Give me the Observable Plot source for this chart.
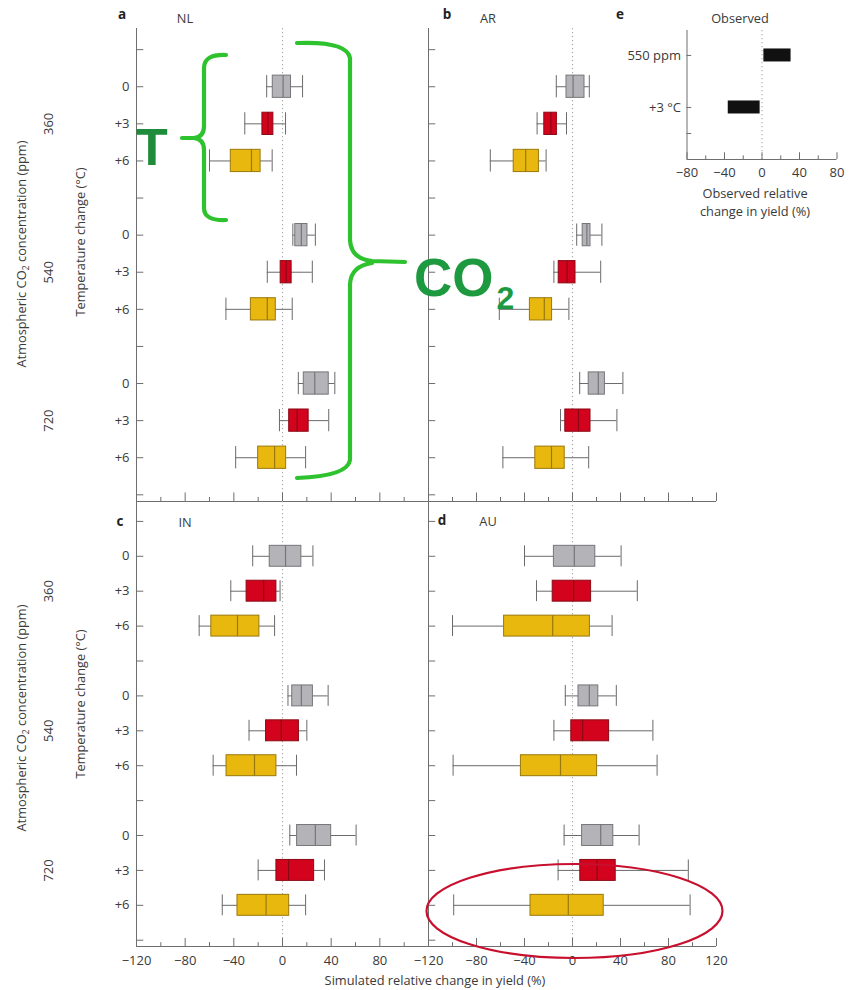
<!DOCTYPE html>
<html><head><meta charset="utf-8">
<script src="https://cdn.jsdelivr.net/npm/d3@7"></script>
<script src="https://cdn.jsdelivr.net/npm/@observablehq/plot@0.6"></script>
<style>
body{margin:0;background:#fff;}
#fig{position:relative;width:856px;height:990px;font-family:"Open Sans",sans-serif;color:#3a3a3a;overflow:hidden;background:#fff;}
.lab{position:absolute;white-space:nowrap;transform:translate(-50%,-50%);font-size:12.8px;line-height:1;}
.bold{font-weight:bold;font-size:13.5px;color:#222;}
.rot{transform:translate(-50%,-50%) rotate(-90deg);font-size:12.8px;}
sub{font-size:0.7em;line-height:0;}
#fig svg.ovl{position:absolute;left:0;top:0;pointer-events:none;}
</style></head><body><div id="fig"></div>
<script>
// ---- data ----
const co2Levels = ["360", "540", "720"];
const tempLevels = ["0", "+3", "+6"];
const tempColors = ["#b4b4b8", "#d3031d", "#e8b80f"];
const tempStrokes = ["#76767a", "#8a0915", "#9a780b"];
// each row: [whisker low, Q1, median, Q3, whisker high]; order 360/0,360/+3,360/+6,540/...,720/...
const NL = [
  [-13, -8, 0.5, 7, 16.5],
  [-31, -16.5, -12, -7.5, 2.5],
  [-60, -42.5, -25.5, -18, -8.5],
  [8.5, 10.5, 15.5, 20.5, 27],
  [-12.5, -1.5, 3, 7.5, 24.5],
  [-46.5, -26, -12.5, -5.5, 8],
  [13, 17.5, 26.5, 38, 43],
  [-2.5, 5.5, 12, 21.5, 38],
  [-38.5, -20, -6.5, 3, 19]
];
const AR = [
  [-13.5, -5, 0.5, 10, 14],
  [-29.5, -23.5, -18, -13, -5],
  [-68.5, -49, -39, -28, -22],
  [3.5, 8.5, 12, 15, 24.5],
  [-15.5, -11.5, -4.5, 2.5, 23.5],
  [-61, -35.5, -23.5, -17, -3],
  [6, 13.5, 21.5, 27, 42],
  [-10, -6, 5, 15, 37],
  [-58, -31, -17.5, -6.5, 13.5]
];
const IN = [
  [-24.5, -10.5, 2.5, 15.5, 25],
  [-42.5, -29.5, -15.5, -5, -2],
  [-68.5, -58.5, -37, -19, -6.5],
  [4.5, 8, 15.5, 25, 37.5],
  [-27.5, -13.5, -1, 13.5, 20],
  [-57, -46, -23, -5, 11.5],
  [6, 12, 27, 40, 60.5],
  [-20, -5, 5, 26, 34.5],
  [-49.5, -37, -13.5, 5.5, 19]
];
const AU = [
  [-40, -15.5, 1.5, 19, 40.5],
  [-30, -16.5, 1, 15.5, 54],
  [-100, -57, -16.5, 14.5, 33],
  [-6, 5, 14, 21.5, 36.5],
  [-15.5, -1, 8.5, 30.5, 67],
  [-99.5, -43, -10, 20.5, 70.5],
  [-7, 8, 23.5, 34, 55.5],
  [-12, 6.5, 20.5, 36, 96.5],
  [-99, -35, -3.5, 26, 98]
];
const xTickValues = [-120, -80, -40, 0, 40, 80, 120];
const xMinorTicks = [-100, -60, -20, 20, 60, 100];
const observedLabels = ["550 ppm", "+3 °C"];
const observedLow = [2, -36];
const observedHigh = [31, -2];
const observedTicks = [-80, -40, 0, 40, 80];
const observedMinor = [-60, -20, 20, 60];

// ---- helpers ----
const fig = document.getElementById("fig");
const axisColor = "#6e6e6e";
const textColor = "#3a3a3a";
const tickFont = 13;
const fmt = d => String(d).replace("-", "\u2212");
const yMin = 0.43, yMax = 13.18, half = 0.3;
const posOf = (c, t) => 2 + 4 * c + t;

function rows(stats) {
  return stats.map((s, i) => {
    const c = Math.floor(i / 3), t = i % 3;
    return {c, t, pos: posOf(c, t), lo: s[0], q1: s[1], med: s[2], q3: s[3], hi: s[4]};
  });
}
const yLabelRows = [];
co2Levels.forEach((c, ci) => tempLevels.forEach((t, ti) => yLabelRows.push({pos: posOf(ci, ti), label: t})));

function place(el, left, top) {
  el.style.position = "absolute";
  el.style.left = left + "px";
  el.style.top = top + "px";
  fig.appendChild(el);
}

function panel(stats, o) {
  const data = rows(stats);
  const marks = [
    Plot.ruleX([0], {stroke: "#a9a9a9", strokeDasharray: "1.3,2.7", strokeWidth: 1.1}),
    Plot.ruleX([-120], {stroke: axisColor}),
    Plot.ruleY([yMax], {stroke: axisColor}),
    Plot.ruleY(d3.range(1, 14), {y: d => d, x1: -120, x2: -114, stroke: axisColor}),
    Plot.ruleX(xTickValues, {x: d => d, y1: yMax, y2: yMax - 0.23, stroke: axisColor}),
    Plot.ruleX(xMinorTicks, {x: d => d, y1: yMax, y2: yMax - 0.11, stroke: axisColor}),
    Plot.ruleY(data, {y: "pos", x1: "lo", x2: "hi", stroke: "#6a6a6a"}),
    Plot.ruleX(data, {x: "lo", y1: d => d.pos - half, y2: d => d.pos + half, stroke: "#6a6a6a"}),
    Plot.ruleX(data, {x: "hi", y1: d => d.pos - half, y2: d => d.pos + half, stroke: "#6a6a6a"}),
    Plot.rect(data, {x1: "q1", x2: "q3", y1: d => d.pos - half, y2: d => d.pos + half,
      fill: d => tempColors[d.t], stroke: d => tempStrokes[d.t], strokeWidth: 1}),
    Plot.ruleX(data, {x: "med", y1: d => d.pos - half, y2: d => d.pos + half, stroke: d => tempStrokes[d.t], strokeWidth: 1.2})
  ];
  if (o.yLabels) {
    marks.push(Plot.text(yLabelRows, {x: -120, y: "pos", text: "label", textAnchor: "end", dx: -7, fontSize: tickFont, fill: textColor}));
    marks.push(Plot.text(co2Levels, {x: -120, y: (d, i) => posOf(i, 1), text: d => d, rotate: -90, dx: -88, fontSize: tickFont, fill: textColor}));
  }
  if (o.xLabels) {
    marks.push(Plot.text(o.xLabels, {x: d => d, y: yMax, dy: 14, text: d => fmt(d), fontSize: tickFont, fill: textColor}));
  }
  const p = Plot.plot({
    width: o.width, height: o.height,
    marginLeft: o.mL, marginRight: o.mR, marginTop: o.mT, marginBottom: o.mB,
    x: {domain: [-120, 120], axis: null},
    y: {domain: [yMin, yMax], reverse: true, axis: null},
    color: {type: "identity"},
    style: {background: "transparent", fontFamily: "Open Sans, sans-serif", overflow: "visible"},
    marks
  });
  place(p, o.left, o.top);
}

// panels a (NL), b (AR): frame y 28..501 ; c (IN), d (AU): frame y 501..946
panel(NL, {left: 0, top: 0, width: 430, height: 520, mL: 136, mR: 2, mT: 28, mB: 19, yLabels: true});
panel(AR, {left: 420, top: 0, width: 436, height: 520, mL: 8, mR: 140, mT: 28, mB: 19});
panel(IN, {left: 0, top: 480, width: 430, height: 510, mL: 136, mR: 2, mT: 21, mB: 44, yLabels: true,
  xLabels: xTickValues.slice(0, 6)});
panel(AU, {left: 420, top: 480, width: 436, height: 510, mL: 8, mR: 140, mT: 21, mB: 44, xLabels: xTickValues});

// panel e (observed)
const obs = observedLabels.map((label, i) => ({i, label, lo: observedLow[i], hi: observedHigh[i]}));
const pe = Plot.plot({
  width: 256, height: 230, marginLeft: 86.5, marginRight: 19.5, marginTop: 30, marginBottom: 71,
  x: {domain: [-80, 80], axis: null},
  y: {domain: [-0.48, 2], reverse: true, axis: null},
  style: {background: "transparent", fontFamily: "Open Sans, sans-serif", overflow: "visible"},
  marks: [
    Plot.ruleX([0], {stroke: "#a9a9a9", strokeDasharray: "1.3,2.7", strokeWidth: 1.1}),
    Plot.ruleX([-80], {stroke: axisColor}),
    Plot.ruleY([2], {stroke: axisColor}),
    Plot.ruleY([0, 1, 1.5], {y: d => d, x1: -80, x2: -75, stroke: axisColor}),
    Plot.ruleX(observedTicks, {x: d => d, y1: 2, y2: 1.87, stroke: axisColor}),
    Plot.ruleX(observedMinor, {x: d => d, y1: 2, y2: 1.93, stroke: axisColor}),
    Plot.rect(obs, {x1: "lo", x2: "hi", y1: d => d.i - 0.125, y2: d => d.i + 0.125, fill: "#111"}),
    Plot.text(obs, {x: -80, y: "i", text: "label", textAnchor: "end", dx: -6, fontSize: tickFont, fill: textColor}),
    Plot.text(observedTicks, {x: d => d, y: 2, dy: 13, text: d => fmt(d), fontSize: tickFont, fill: textColor})
  ]
});
place(pe, 600, 0);

// ---- text labels ----
function label(html, x, y, cls) {
  const d = document.createElement("div");
  d.className = "lab" + (cls ? " " + cls : "");
  d.innerHTML = html;
  d.style.left = x + "px";
  d.style.top = y + "px";
  fig.appendChild(d);
}
label("a", 122, 15, "bold"); label("NL", 185, 18);
label("b", 447, 15, "bold"); label("AR", 488, 18);
label("e", 620, 15, "bold"); label("Observed", 740, 18);
label("c", 120, 522, "bold"); label("IN", 185, 522);
label("d", 442, 521, "bold"); label("AU", 488, 521);
label("Observed relative", 755, 193);
label("change in yield (%)", 755, 211);
label("Simulated relative change in yield (%)", 435, 980);
label("Atmospheric CO<sub>2</sub> concentration (ppm)", 21, 254, "rot");
label("Temperature change (°C)", 80, 242, "rot");
label("Atmospheric CO<sub>2</sub> concentration (ppm)", 21, 718, "rot");
label("Temperature change (°C)", 80, 704, "rot");

// ---- hand-drawn annotations (overlay) ----
const ns = "http://www.w3.org/2000/svg";
const ovl = document.createElementNS(ns, "svg");
ovl.setAttribute("class", "ovl");
ovl.setAttribute("width", 856); ovl.setAttribute("height", 990);
ovl.innerHTML = `
<path d="M226,55 Q204,54 204,68 L204,126 Q204,137 194,138 L182,138 M194,138 Q204,139 204,150 L204,208 Q204,221 226,220" fill="none" stroke="#2fc22f" stroke-width="4.2" stroke-linecap="round"/>
<path d="M297,43 Q347,41 350,58 L350,240 Q351,259 372,261 L405,262 M372,263 Q351,266 350,284 L350,460 Q348,476 297,478" fill="none" stroke="#2fc22f" stroke-width="4.2" stroke-linecap="round"/>
<text x="152" y="165" text-anchor="middle" font-family="Liberation Sans, Arial, sans-serif" font-weight="bold" font-size="52" fill="#1f8c3b">T</text>
<text x="414" y="296" font-family="Liberation Sans, Arial, sans-serif" font-weight="bold" font-size="53" fill="#1d9a3f">CO<tspan dx="3" dy="13" font-size="32">2</tspan></text>
<ellipse cx="574.5" cy="911" rx="148" ry="47" fill="none" stroke="#c8102e" stroke-width="2.2"/>
`;
fig.appendChild(ovl);
</script>
</body></html>
